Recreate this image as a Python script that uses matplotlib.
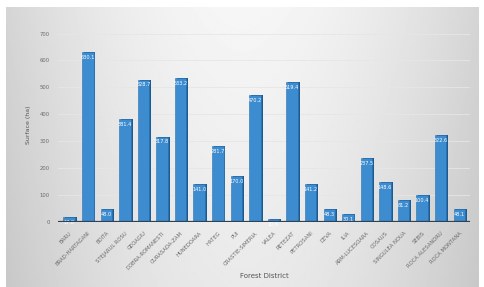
import numpy as np
import matplotlib.pyplot as plt

districts = [
    "BARU", "BRAD-HARTAGANI", "BOITA", "STEJARUL ROSU", "GEOAGIU",
    "DOBRA-ROMANESTI", "GURASADA-ZAM", "HUNEDOARA", "HATEG", "PUI",
    "ORASTIE-SIMERIA", "VALEA", "RETEZAT", "PETROSANI", "DEVA", "ILIA",
    "ARM-LUCESOARA", "COSAUS", "SINGULEA NOUA", "SEBIS",
    "ROCA ALESANDRU", "ROCA MONTANA",
]
surface = [
    17.8, 630.1, 48.0, 381.4, 528.7, 317.8, 533.2, 141.0, 281.7, 170.0,
    470.2, 10.6, 519.4, 141.2, 48.3, 30.1, 237.5, 148.6, 81.2, 100.4,
    322.6, 48.1,
]
y_ticks = [0, 100, 200, 300, 400, 500, 600, 700]

fig = plt.figure(figsize=(4.84, 2.87), dpi=100)
fig.patch.set_facecolor("white")

# gradient panel behind the chart
bg = fig.add_axes([0.012, 0.0, 0.976, 0.975])
xs = np.linspace(-1, 1, 300)
ys = np.linspace(0, 1, 200)
gx, gy = np.meshgrid(xs, ys)
shade = 0.965 - 0.13 * np.abs(gx) ** 1.8 - 0.05 * (1 - gy)
bg.imshow(shade, cmap="gray", vmin=0, vmax=1, aspect="auto",
          extent=[0, 1, 0, 1], origin="lower")
bg.axis("off")

ax = fig.add_axes([0.12, 0.226, 0.852, 0.676])
ax.patch.set_alpha(0)

x = np.arange(len(districts))
w = 0.62
# side face (3D look)
ax.bar(x + 0.1, surface, width=w, color="#1c5a92", zorder=2)
ax.bar(x, surface, width=w, color="#3d8cd0", edgecolor="#2b6fae",
       linewidth=0.4, zorder=3)

for xi, v in zip(x, surface):
    ax.text(xi, v - 10, f"{v:.1f}", ha="center", va="top",
            fontsize=3.6, color="white", zorder=4)

ax.axhline(0, color="#2f4152", linewidth=1.6, zorder=5)

ax.set_ylim(0, 720)
ax.set_xlim(-0.6, len(districts) - 0.4)
ax.set_yticks(y_ticks)
ax.grid(axis="y", color="#e6e6e6", linewidth=0.6, zorder=0)
for s in ax.spines.values():
    s.set_visible(False)
ax.tick_params(length=0, labelsize=3.8, colors="#6a6a6a", pad=6)
ax.set_xticks(x)
ax.set_xticklabels(districts, rotation=45, ha="right", rotation_mode="anchor")

ax.set_ylabel("Surface (ha)", fontsize=4.5, color="#555555", labelpad=6)
ax.set_xlabel("Forest District", fontsize=5, color="#555555", labelpad=2)

plt.savefig("out.png", dpi=100)
plt.close()
